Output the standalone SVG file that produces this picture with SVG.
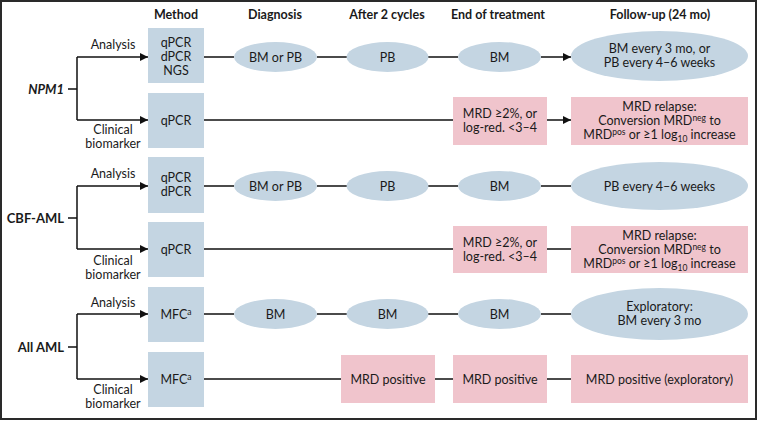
<svg xmlns="http://www.w3.org/2000/svg" width="759" height="421" viewBox="0 0 759 421">
<defs>
<marker id="ah" viewBox="0 0 10 10" refX="10" refY="5" markerWidth="8" markerHeight="8" markerUnits="userSpaceOnUse" orient="auto">
<path d="M0,0 L10,5 L0,10 z" fill="#111"/>
</marker>
<style>
text{font-family:Lato,"Open Sans","Liberation Sans",sans-serif;font-size:12.5px;fill:#1a1a1a;text-anchor:middle}
.h{font-weight:bold;font-size:12.5px}
.lab{font-weight:bold;font-size:13px;text-anchor:end}
.m{fill:#c4d5e2}
.e{fill:#c4d5e2}
.p{fill:#f0c4cc}
.ln{stroke:#111;stroke-width:1.5;fill:none}
.sup{font-size:8.5px}
</style>
</defs>
<rect x="1" y="1" width="755" height="418" fill="#fff" stroke="#2a2a2a" stroke-width="2"/>
<g id="headers">
<text class="h" x="176" y="19">Method</text>
<text class="h" x="275" y="19">Diagnosis</text>
<text class="h" x="387" y="19">After 2 cycles</text>
<text class="h" x="498" y="19">End of treatment</text>
<text class="h" x="660" y="19">Follow-up (24 mo)</text>
</g>
<g id="connectors">
<!-- NPM1 -->
<path class="ln" d="M68,89 H77 M77,57 V120"/>
<path class="ln" d="M77,57 H148" marker-end="url(#ah)"/>
<path class="ln" d="M77,120 H148" marker-end="url(#ah)"/>
<path class="ln" d="M204,57 H234 M317,57 H347 M428,57 H458"/>
<path class="ln" d="M541,57 H571" marker-end="url(#ah)"/>
<path class="ln" d="M204,120 H453"/>
<path class="ln" d="M547,120 H571" marker-end="url(#ah)"/>
<!-- CBF-AML -->
<path class="ln" d="M68,218 H77 M77,186 V249"/>
<path class="ln" d="M77,186 H148" marker-end="url(#ah)"/>
<path class="ln" d="M77,249 H148" marker-end="url(#ah)"/>
<path class="ln" d="M204,186 H234 M317,186 H347 M428,186 H458 M541,186 H571"/>
<path class="ln" d="M204,249 H453 M547,249 H571"/>
<!-- All AML -->
<path class="ln" d="M68,347 H77 M77,314 V379"/>
<path class="ln" d="M77,314 H148" marker-end="url(#ah)"/>
<path class="ln" d="M77,379 H148" marker-end="url(#ah)"/>
<path class="ln" d="M204,314 H234 M317,314 H347 M428,314 H458 M541,314 H571"/>
<path class="ln" d="M204,379 H341 M435,379 H453 M547,379 H571"/>
</g>
<g id="edge-labels">
<text x="113" y="49">Analysis</text>
<text x="113" y="134">Clinical</text>
<text x="113" y="148">biomarker</text>
<text x="113" y="178">Analysis</text>
<text x="113" y="265">Clinical</text>
<text x="113" y="279">biomarker</text>
<text x="113" y="307">Analysis</text>
<text x="113" y="394">Clinical</text>
<text x="113" y="408">biomarker</text>
</g>
<g id="npm1"><text class="lab" x="64" y="93.5" font-style="italic">NPM1</text></g>
<g id="cbf-aml"><text class="lab" x="64" y="222.5">CBF-AML</text></g>
<g id="all-aml"><text class="lab" x="64" y="351.5">All AML</text></g>

<!-- Row 1 -->
<g id="npm1-method-analysis"><rect class="m" x="148" y="28" width="56" height="55"/>
<text x="176" y="47">qPCR</text><text x="176" y="61">dPCR</text><text x="176" y="75">NGS</text></g>
<g id="npm1-dx"><ellipse class="e" cx="275.5" cy="57" rx="41.5" ry="15"/><text x="275.5" y="61.5">BM or PB</text></g>
<g id="npm1-c2"><ellipse class="e" cx="387.5" cy="57" rx="41" ry="15"/><text x="387.5" y="61.5">PB</text></g>
<g id="npm1-eot"><ellipse class="e" cx="499.5" cy="57" rx="41.5" ry="15"/><text x="499.5" y="61.5">BM</text></g>
<g id="npm1-fu"><ellipse class="e" cx="659.5" cy="56" rx="88.5" ry="25"/><text x="659.5" y="53">BM every 3 mo, or</text><text x="659.5" y="67">PB every 4–6 weeks</text></g>
<!-- Row 2 -->
<g id="npm1-method-clinical"><rect class="m" x="148" y="93" width="56" height="55"/><text x="176" y="124.5">qPCR</text></g>
<g id="npm1-eot-mrd"><rect class="p" x="453" y="97" width="94" height="48"/><text x="500" y="118">MRD ≥2%, or</text><text x="500" y="132">log-red. &lt;3–4</text></g>
<g id="npm1-fu-mrd"><rect class="p" x="571" y="97" width="177" height="48"/>
<text x="659.5" y="111">MRD relapse:</text>
<text x="659.5" y="125">Conversion MRD<tspan class="sup" dy="-4">neg</tspan><tspan dy="4"> to</tspan></text>
<text x="659.5" y="139">MRD<tspan class="sup" dy="-4">pos</tspan><tspan dy="4"> or ≥1 log</tspan><tspan class="sup" dy="3">10</tspan><tspan dy="-3"> increase</tspan></text></g>
<!-- Row 3 -->
<g id="cbf-method-analysis"><rect class="m" x="148" y="157" width="56" height="56"/>
<text x="176" y="182">qPCR</text><text x="176" y="196">dPCR</text></g>
<g id="cbf-dx"><ellipse class="e" cx="275.5" cy="186" rx="41.5" ry="15"/><text x="275.5" y="190.5">BM or PB</text></g>
<g id="cbf-c2"><ellipse class="e" cx="387.5" cy="186" rx="41" ry="15"/><text x="387.5" y="190.5">PB</text></g>
<g id="cbf-eot"><ellipse class="e" cx="499.5" cy="186" rx="41.5" ry="15"/><text x="499.5" y="190.5">BM</text></g>
<g id="cbf-fu"><ellipse class="e" cx="659.5" cy="186" rx="88.5" ry="24"/><text x="659.5" y="190.5">PB every 4–6 weeks</text></g>
<!-- Row 4 -->
<g id="cbf-method-clinical"><rect class="m" x="148" y="222" width="56" height="55"/><text x="176" y="253.5">qPCR</text></g>
<g id="cbf-eot-mrd"><rect class="p" x="453" y="226" width="94" height="47"/><text x="500" y="247">MRD ≥2%, or</text><text x="500" y="261">log-red. &lt;3–4</text></g>
<g id="cbf-fu-mrd"><rect class="p" x="571" y="226" width="177" height="47"/>
<text x="659.5" y="240">MRD relapse:</text>
<text x="659.5" y="254">Conversion MRD<tspan class="sup" dy="-4">neg</tspan><tspan dy="4"> to</tspan></text>
<text x="659.5" y="268">MRD<tspan class="sup" dy="-4">pos</tspan><tspan dy="4"> or ≥1 log</tspan><tspan class="sup" dy="3">10</tspan><tspan dy="-3"> increase</tspan></text></g>
<!-- Row 5 -->
<g id="all-method-analysis"><rect class="m" x="148" y="287" width="56" height="55"/><text x="176" y="318.5">MFC<tspan class="sup" dy="-4">a</tspan></text></g>
<g id="all-dx"><ellipse class="e" cx="275.5" cy="314" rx="41.5" ry="15"/><text x="275.5" y="318.5">BM</text></g>
<g id="all-c2"><ellipse class="e" cx="387.5" cy="314" rx="41" ry="15"/><text x="387.5" y="318.5">BM</text></g>
<g id="all-eot"><ellipse class="e" cx="499.5" cy="314" rx="41.5" ry="15"/><text x="499.5" y="318.5">BM</text></g>
<g id="all-fu"><ellipse class="e" cx="659.5" cy="314" rx="88.5" ry="26"/><text x="659.5" y="311">Exploratory:</text><text x="659.5" y="325">BM every 3 mo</text></g>
<!-- Row 6 -->
<g id="all-method-clinical"><rect class="m" x="148" y="352" width="56" height="55"/><text x="176" y="383.5">MFC<tspan class="sup" dy="-4">a</tspan></text></g>
<g id="all-c2-mrd"><rect class="p" x="341" y="355" width="94" height="48"/><text x="388" y="383.5">MRD positive</text></g>
<g id="all-eot-mrd"><rect class="p" x="453" y="355" width="94" height="48"/><text x="500" y="383.5">MRD positive</text></g>
<g id="all-fu-mrd"><rect class="p" x="571" y="355" width="177" height="48"/><text x="659.5" y="383.5">MRD positive (exploratory)</text></g>
</svg>
